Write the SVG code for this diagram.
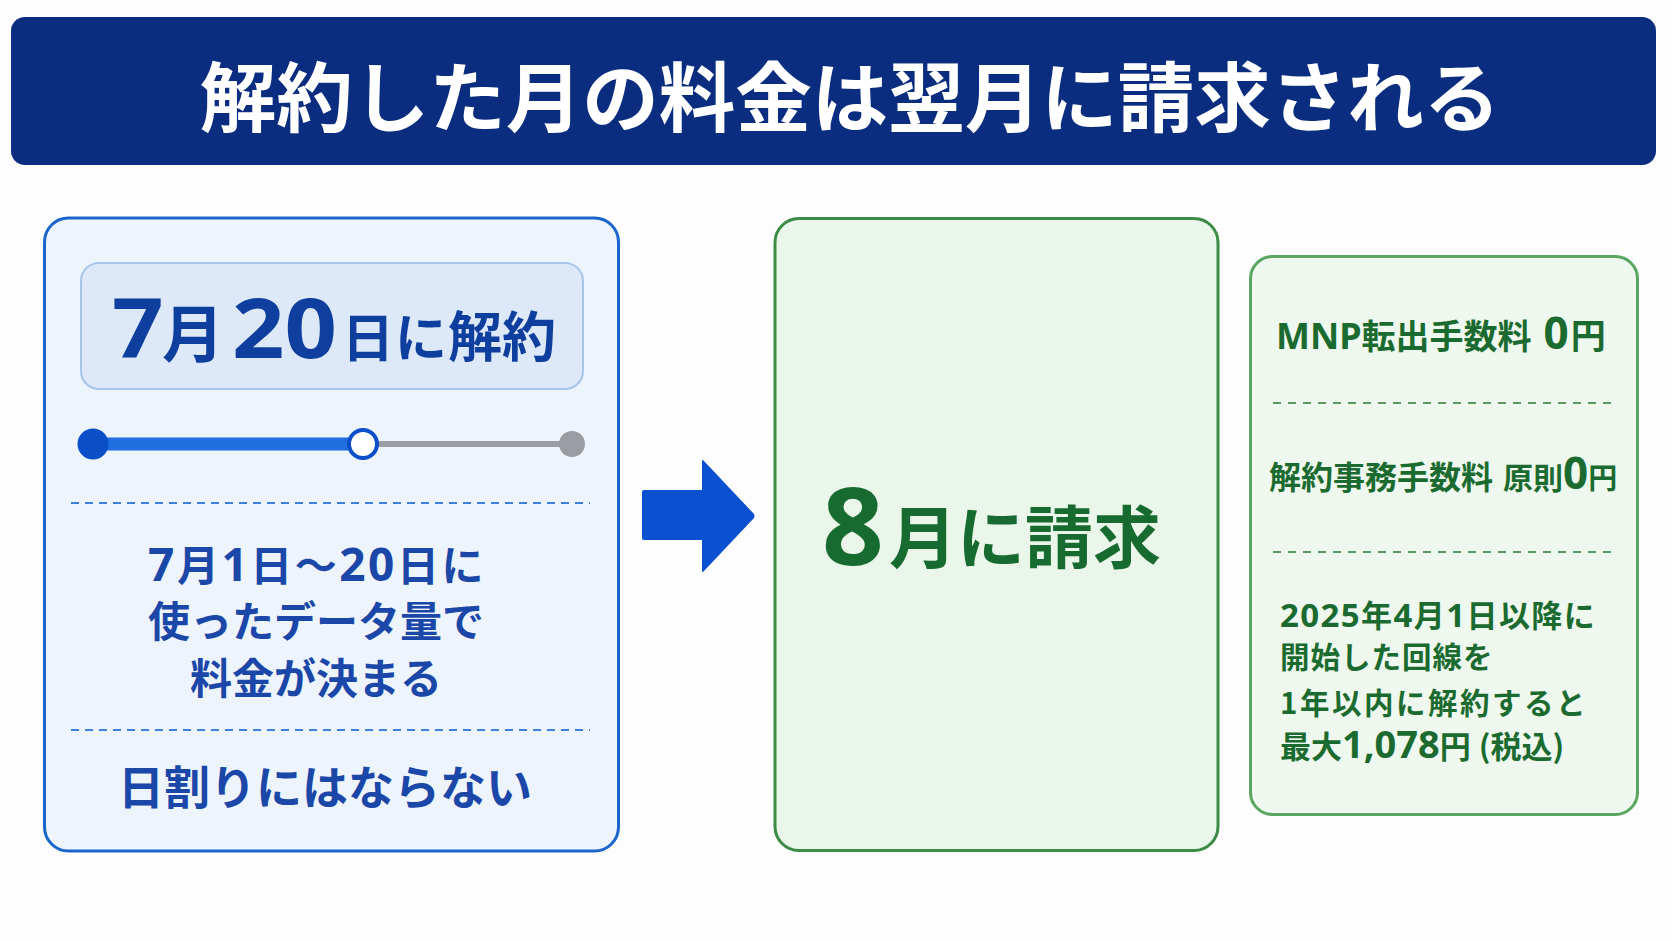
<svg xmlns="http://www.w3.org/2000/svg" width="1672" height="941" viewBox="0 0 1672 941">
<style>
text{font-family:"Noto Sans CJK JP","Noto Sans",sans-serif;font-weight:700}
.lat{font-family:"Noto Sans","Noto Sans CJK JP",sans-serif}
.blue{fill:#1a47a8}
.green{fill:#1b6b30}
.dashb{stroke:#3f7fd8;stroke-width:2;stroke-dasharray:8 6;fill:none}
.dashg{stroke:#5a9a62;stroke-width:2;stroke-dasharray:8 7;fill:none}
</style>
<rect width="1672" height="941" fill="#fdfdfe"/>
<g id="title">
<rect x="11" y="17" width="1645" height="148" rx="14" fill="#0a2d80"/>
<text x="850" y="92" font-size="76.5" font-weight="900" fill="#ffffff" text-anchor="middle" dominant-baseline="central">解約した月の料金は翌月に請求される</text>
</g>
<g id="left-panel">
<rect x="44.5" y="218" width="574" height="633" rx="24" fill="#eef4fc" stroke="#1a66cc" stroke-width="3"/>
<rect x="81" y="263" width="502" height="126" rx="18" fill="#dde9f8" stroke="#a9c4ea" stroke-width="2"/>
<g fill="#0f3f9e">
<text class="lat" font-size="82" font-weight="800" transform="translate(112 358) scale(1.1 1)">7</text>
<text x="162" y="357" font-size="62" font-weight="900">月</text>
<text class="lat" font-size="82" font-weight="800" transform="translate(232 358) scale(1.12 1)">20</text>
<text y="357" font-weight="900"><tspan x="342" font-size="52">日</tspan><tspan x="395" font-size="52">に</tspan><tspan x="448" font-size="54">解約</tspan></text>
</g>
<line x1="93" y1="444" x2="363" y2="444" stroke="#1f6fe0" stroke-width="13"/>
<line x1="363" y1="444" x2="572" y2="444" stroke="#9a9ea3" stroke-width="6"/>
<circle cx="93" cy="444" r="15.5" fill="#0a4fc8"/>
<circle cx="572" cy="444" r="13" fill="#9a9ea3"/>
<circle cx="363" cy="444" r="14" fill="#ffffff" stroke="#0a4fc8" stroke-width="4"/>
<line class="dashb" x1="71" y1="503" x2="590" y2="503"/>
<text class="blue" x="317" y="581" font-size="42" letter-spacing="2.5" text-anchor="middle"><tspan class="lat" font-size="46">7</tspan>月<tspan class="lat" font-size="46">1</tspan>日〜<tspan class="lat" font-size="46">20</tspan>日に</text>
<text class="blue" x="316" y="637" font-size="42" text-anchor="middle">使ったデータ量で</text>
<text class="blue" x="316" y="694" font-size="42" text-anchor="middle">料金が決まる</text>
<line class="dashb" x1="71" y1="730" x2="590" y2="730"/>
<text class="blue" x="325" y="804" font-size="46" text-anchor="middle">日割りにはならない</text>
</g>
<g id="connectors">
<path d="M642 492 Q642 490 644 490 L702 490 L702 461 Q702 459 704 461 L754 514 Q755 516 754 518 L704 571 Q702 573 702 571 L702 540 L644 540 Q642 540 642 538 Z" fill="#0b50d0"/>
</g>
<g id="billing-box">
<rect x="775" y="218.5" width="443" height="632" rx="24" fill="#eaf6ea" stroke="#3c8c46" stroke-width="3"/>
<text class="lat" x="822" y="565" font-size="108" font-weight="800" fill="#176b30">8</text>
<text x="889" y="563" font-size="68" font-weight="900" fill="#176b30">月に請求</text>
</g>
<g id="fees-box">
<rect x="1250.5" y="256.5" width="387" height="558" rx="22" fill="#eef8ee" stroke="#5aa55f" stroke-width="3"/>
<text class="green" y="349"><tspan class="lat" x="1276" font-size="36">MNP</tspan><tspan font-size="34">転出手数料</tspan><tspan class="lat" font-size="44" dx="12">0</tspan><tspan font-size="35" dx="2">円</tspan></text>
<line class="dashg" x1="1273" y1="403" x2="1615" y2="403"/>
<text class="green" y="489"><tspan x="1269" font-size="32">解約事務手数料</tspan><tspan font-size="30" dx="10">原則</tspan><tspan class="lat" font-size="44">0</tspan><tspan font-size="29">円</tspan></text>
<line class="dashg" x1="1273" y1="552" x2="1615" y2="552"/>
<text class="green" x="1280" y="627" font-size="31" letter-spacing="1.4"><tspan class="lat" font-size="33">2025</tspan>年<tspan class="lat" font-size="33">4</tspan>月<tspan class="lat" font-size="33">1</tspan>日以降に</text>
<text class="green" x="1280" y="668" font-size="29.5" letter-spacing="1">開始した回線を</text>
<text class="green" x="1280" y="714" font-size="29.5" letter-spacing="2.5">1年以内に解約すると</text>
<text class="green" x="1280" y="758" font-size="31">最大<tspan class="lat" font-size="38">1,078</tspan>円<tspan font-size="31" dx="8">(税込)</tspan></text>
</g>
</svg>
